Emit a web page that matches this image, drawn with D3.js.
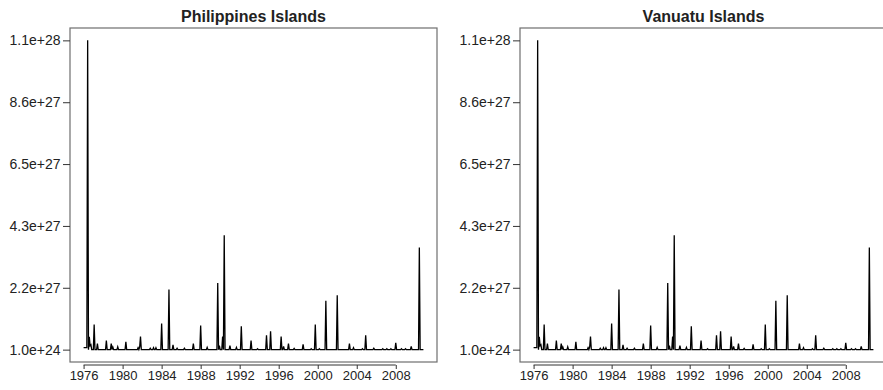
<!DOCTYPE html>
<html>
<head>
<meta charset="utf-8">
<script src="https://cdn.jsdelivr.net/npm/d3@7"></script>
<style>
  html, body { margin: 0; padding: 0; background: #fff; }
  svg { display: block; font-family: "Liberation Sans", Arial, sans-serif; }
</style>
</head>
<body>
<svg id="chart" width="883" height="390"></svg>
<script>
// Monthly series, January 1976 onwards.
const seriesStartYear = 1976;
const seriesMonths = 419;
const baseValue = 1.0e24;

// Months (index from Jan 1976) carrying values above the floor, and those values.
const peakMonths = [0, 1, 2, 3, 4, 5, 7, 8, 9, 13, 17, 28, 34, 36, 42, 52, 67, 69, 70,
  82, 86, 89, 96, 105, 110, 115, 124, 135, 144, 152, 165, 167, 171, 173, 180, 188,
  194, 206, 214, 225, 230, 243, 246, 252, 259, 270, 280, 285, 290, 298, 312, 327,
  332, 343, 347, 357, 368, 373, 378, 384, 391, 396, 403, 413];
const peakValues = [7e25, 7e25, 7e25, 7e25, 7e25, 1.0755e28, 4.5e26, 1.4e26, 1.7e26,
  8.7e26, 2.1e26, 3.2e26, 2.1e26, 9e25, 1.0e26, 2.7e26, 7e25, 1.0e26, 4.6e26,
  5e25, 7e25, 7e25, 9.1e26, 2.09e27, 1.7e26, 5e25, 5e25, 2.1e26, 8.4e26, 8e25,
  2.32e27, 1.4e26, 4.6e26, 3.98e27, 1.4e26, 8e25,
  8.1e26, 3.2e26, 3.5e25, 5.0e26, 6.4e26, 4.6e26, 1.15e26, 2.1e26, 4.5e25, 1.85e26,
  3.5e25, 8.7e26, 3.5e25, 1.7e27, 1.89e27, 2.1e26,
  7e25, 3.5e25, 5.0e26, 5e25, 3.5e25, 3.5e25, 3.5e25, 2.4e26, 3.5e25, 3.5e25,
  1.15e26, 3.55e27];

const panelTitles = ["Philippines Islands", "Vanuatu Islands"];
const xTickYears = [1976, 1980, 1984, 1988, 1992, 1996, 2000, 2004, 2008];
const yTickLabels = ["1.0e+24", "2.2e+27", "4.3e+27", "6.5e+27", "8.6e+27", "1.1e+28"];

// Build the monthly series for both panels (the two regions share the record).
const peakByMonth = new Map(peakMonths.map((m, i) => [m, peakValues[i]]));
const series = d3.range(seriesMonths).map(m => ({
  t: seriesStartYear + m / 12,
  v: peakByMonth.has(m) ? peakByMonth.get(m) : baseValue
}));
const panelSeries = [series, series];

const svg = d3.select("#chart");
const panelLefts = [70, 520];
const plotW = 367, plotTop = 28, plotBottom = 362;

// R-style 4% padding around the data range
function padded(ext) {
  const d = (ext[1] - ext[0]) * 0.04;
  return [ext[0] - d, ext[1] + d];
}

panelSeries.forEach((data, p) => {
  const left = panelLefts[p];
  const xExt = d3.extent(data, d => d.t);
  const yExt = d3.extent(data, d => d.v);
  const x = d3.scaleLinear().domain(padded(xExt)).range([left, left + plotW]);
  const y = d3.scaleLinear().domain(padded(yExt)).range([plotBottom, plotTop]);

  const g = svg.append("g");

  // data line
  g.append("path")
    .datum(data)
    .attr("fill", "none")
    .attr("stroke", "#000")
    .attr("stroke-width", 1.3)
    .attr("stroke-linejoin", "miter")
    .attr("d", d3.line().x(d => x(d.t)).y(d => y(d.v)));

  // plot box
  g.append("rect")
    .attr("x", left).attr("y", plotTop)
    .attr("width", plotW).attr("height", plotBottom - plotTop)
    .attr("fill", "none").attr("stroke", "#6e6e6e").attr("stroke-width", 1.2);

  // y axis: six evenly spaced ticks spanning the data range
  const yTicks = d3.range(6).map(i => yExt[0] + i * (yExt[1] - yExt[0]) / 5);
  const yAxis = g.append("g")
    .attr("transform", `translate(${left},0)`)
    .call(d3.axisLeft(y).tickValues(yTicks).tickSize(7).tickPadding(2.5)
      .tickFormat((d, i) => yTickLabels[i]));
  yAxis.select(".domain").remove();
  yAxis.selectAll("text").attr("font-size", 14);

  // x axis
  const xAxis = g.append("g")
    .attr("transform", `translate(0,${plotBottom + 3})`)
    .call(d3.axisBottom(x).tickValues(xTickYears).tickSize(4).tickPadding(1.5)
      .tickFormat(d3.format("d")));
  xAxis.select(".domain")
    .attr("d", `M${x(xTickYears[0])},0H${x(xTickYears[xTickYears.length - 1])}`);
  xAxis.selectAll("text").attr("font-size", 13);

  [yAxis, xAxis].forEach(a => {
    a.selectAll("text").attr("fill", "#222")
      .attr("font-family", "Liberation Sans, Arial, sans-serif");
    a.selectAll("line, path").attr("stroke", "#333").attr("stroke-width", 1);
  });

  // title
  g.append("text")
    .attr("x", left + plotW / 2).attr("y", 21.5)
    .attr("text-anchor", "middle")
    .attr("font-size", 16).attr("font-weight", "bold").attr("fill", "#222")
    .text(panelTitles[p]);
});
</script>
</body>
</html>
